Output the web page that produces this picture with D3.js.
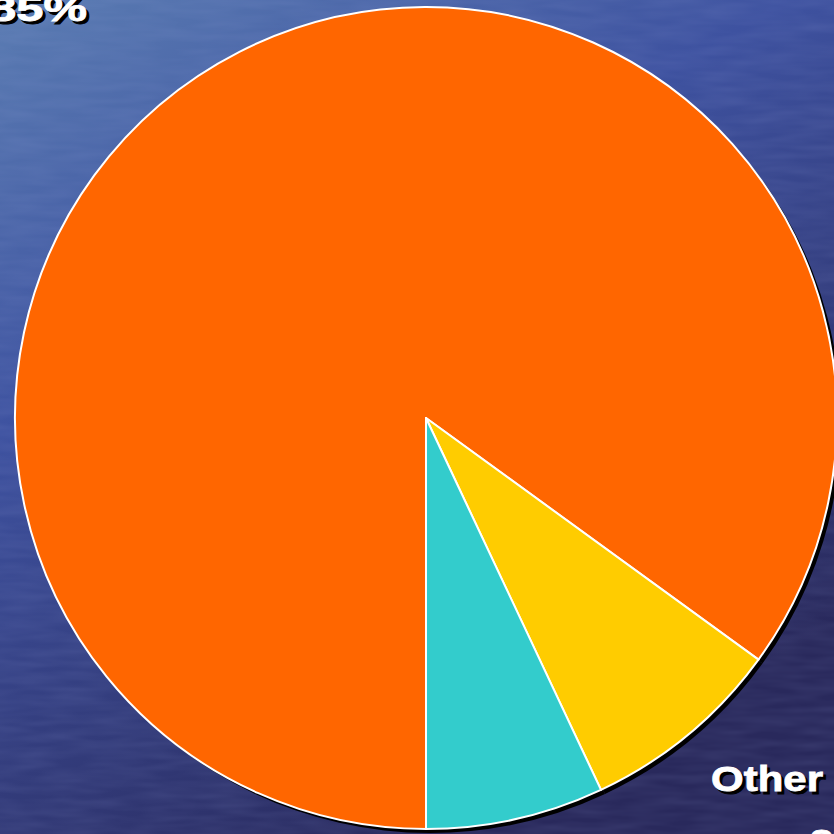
<!DOCTYPE html>
<html>
<head>
<meta charset="utf-8">
<script src="https://cdn.jsdelivr.net/npm/d3@7"></script>
<style>
  html, body { margin: 0; padding: 0; background: #2c3366; }
  svg { display: block; }
</style>
</head>
<body>
<div id="chart"></div>
<script>
// slice data, clockwise from 6 o'clock
var categories = ["Main", "Other", "Rest"];
var values = [85, 8, 7];
var colors = ["#ff6600", "#ffcc00", "#33cccc"];

var width = 834;
var height = 834;
var cx = 426, cy = 418, radius = 411;

var svg = d3.select("#chart").append("svg")
    .attr("width", width)
    .attr("height", height);

var defs = svg.append("defs");
var grad = defs.append("linearGradient")
    .attr("id", "bg")
    .attr("x1", 0).attr("y1", 0)
    .attr("x2", 0.55).attr("y2", 1);
grad.append("stop").attr("offset", 0).attr("stop-color", "#5a7cb2");
grad.append("stop").attr("offset", 0.4).attr("stop-color", "#3e52a0");
grad.append("stop").attr("offset", 1).attr("stop-color", "#29295c");

// faint water streaks
var tex = defs.append("filter").attr("id", "tex")
    .attr("x", 0).attr("y", 0).attr("width", 1).attr("height", 1);
tex.append("feTurbulence")
    .attr("type", "fractalNoise")
    .attr("baseFrequency", "0.02 0.12")
    .attr("numOctaves", 2)
    .attr("seed", 3);
tex.append("feColorMatrix")
    .attr("values", "0 0 0 0 0.35  0 0 0 0 0.4  0 0 0 0 0.75  0 0 0 0.18 -0.05");

svg.append("rect").attr("width", width).attr("height", height).attr("fill", "url(#bg)");
svg.append("rect").attr("width", width).attr("height", height).attr("filter", "url(#tex)");

var pie = d3.pie()
    .sort(null)
    .startAngle(Math.PI)
    .endAngle(3 * Math.PI)
    .value(function (d) { return d; });

var arc = d3.arc().innerRadius(0).outerRadius(radius);
var arcs = pie(values);

// drop shadow
svg.append("g")
    .attr("transform", "translate(" + (cx + 4) + "," + (cy + 4) + ")")
    .selectAll("path")
    .data(arcs)
    .enter().append("path")
    .attr("d", arc)
    .attr("fill", "#000");

var g = svg.append("g")
    .attr("transform", "translate(" + cx + "," + cy + ")");

g.selectAll("path.slice")
    .data(arcs)
    .enter().append("path")
    .attr("class", "slice")
    .attr("d", arc)
    .attr("fill", function (d, i) { return colors[i]; })
    .attr("stroke", "#fff")
    .attr("stroke-width", 2)
    .attr("stroke-linejoin", "round");

// labels (partly outside the frame)
var labels = [
    {text: "85%", x: 87, y: 21, anchor: "end", len: 98},
    {text: "Other", x: 711, y: 791, anchor: "start", len: 112},
    {text: "8%", x: 810, y: 854, anchor: "start", len: 60}
];

function drawLabel(sel, dx, dy, fill) {
    sel.append("text")
        .attr("x", function (d) { return d.x + dx; })
        .attr("y", function (d) { return d.y + dy; })
        .attr("text-anchor", function (d) { return d.anchor; })
        .attr("textLength", function (d) { return d.len; })
        .attr("lengthAdjust", "spacingAndGlyphs")
        .attr("font-family", "Liberation Sans, Arial, sans-serif")
        .attr("font-weight", "bold")
        .attr("font-size", 35)
        .attr("fill", fill)
        .attr("stroke", fill)
        .attr("stroke-width", 0.8)
        .text(function (d) { return d.text; });
}

var lg = svg.selectAll("g.label").data(labels).enter().append("g").attr("class", "label");
lg.call(drawLabel, 3, 3, "#000");
lg.call(drawLabel, 0, 0, "#fff");
</script>
</body>
</html>
